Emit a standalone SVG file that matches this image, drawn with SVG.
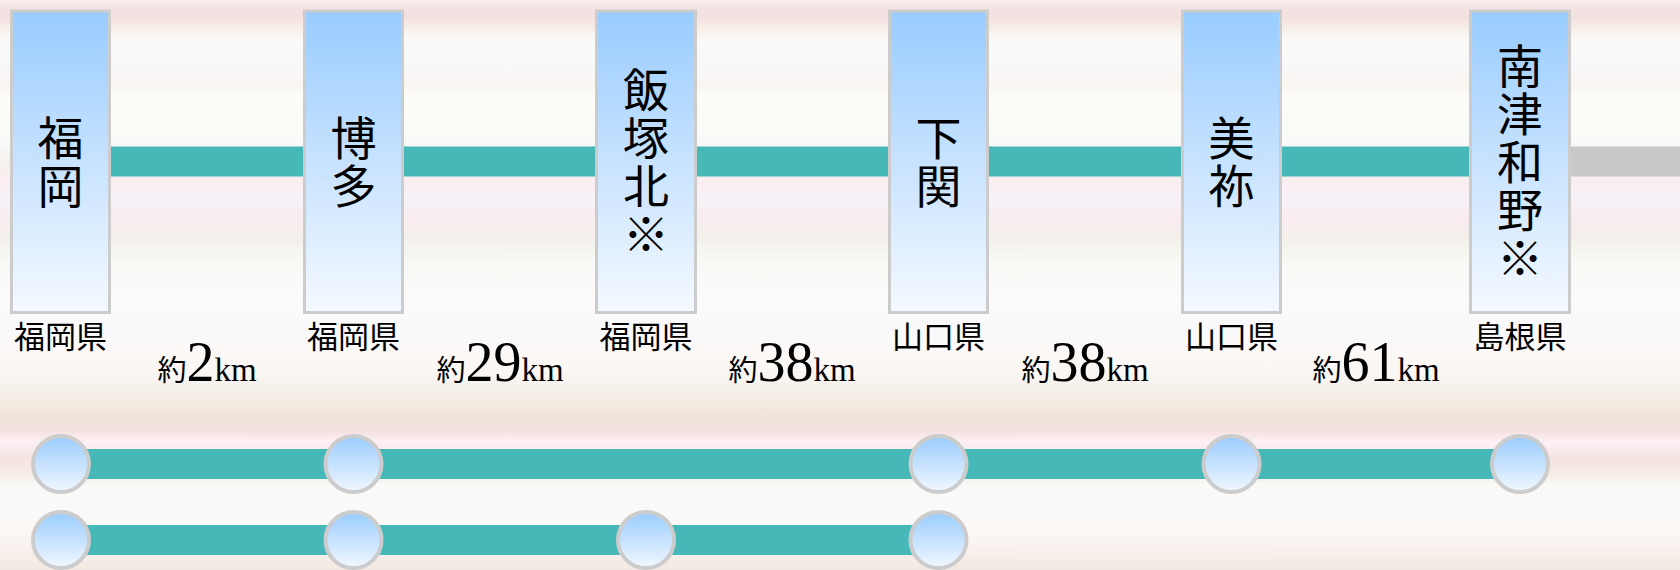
<svg xmlns="http://www.w3.org/2000/svg" width="1680" height="570" viewBox="0 0 1680 570">
<style>
.box{fill:url(#boxg);stroke:#cccccc;stroke-width:3}
.dot{fill:url(#dotg);stroke:#cccccc;stroke-width:4}
.st{font-family:"Noto Sans CJK JP",sans-serif;font-size:46px;fill:#000;text-anchor:middle;writing-mode:vertical-rl;letter-spacing:2px}
.pref{font-family:"Noto Sans CJK JP",sans-serif;font-size:31px;fill:#000;text-anchor:middle}
.dist{font-family:"Liberation Serif","Noto Sans CJK JP",serif;fill:#000;text-anchor:middle}
.ja{font-family:"Noto Sans CJK JP",sans-serif;font-size:29px}
.num{font-size:56px}
.km{font-size:33px}
.line{stroke:#47b8b8;stroke-width:30;fill:none}
.gray{stroke:#c9c9c9;stroke-width:30;fill:none}
</style>
<defs>
<linearGradient id="bg" x1="0" y1="0" x2="0" y2="570" gradientUnits="userSpaceOnUse">
<stop offset="0" stop-color="#fbeff1"/>
<stop offset="0.01" stop-color="#f5e3e3"/>
<stop offset="0.03" stop-color="#f3e0e0"/>
<stop offset="0.05" stop-color="#f7efe8"/>
<stop offset="0.07" stop-color="#fafafa"/>
<stop offset="0.12" stop-color="#f8f8fa"/>
<stop offset="0.15" stop-color="#faf5f0"/>
<stop offset="0.17" stop-color="#fcfdf9"/>
<stop offset="0.23" stop-color="#fafcf8"/>
<stop offset="0.25" stop-color="#f9f9fa"/>
<stop offset="0.29" stop-color="#f5f0ec"/>
<stop offset="0.32" stop-color="#fbeef2"/>
<stop offset="0.35" stop-color="#f6f2f8"/>
<stop offset="0.38" stop-color="#f9ecf0"/>
<stop offset="0.42" stop-color="#f3f0ea"/>
<stop offset="0.46" stop-color="#f8faf6"/>
<stop offset="0.52" stop-color="#fdfafa"/>
<stop offset="0.58" stop-color="#f9f9fb"/>
<stop offset="0.62" stop-color="#fcf8f6"/>
<stop offset="0.655" stop-color="#f9f6f3"/>
<stop offset="0.74" stop-color="#efe3d8"/>
<stop offset="0.755" stop-color="#f5e1e1"/>
<stop offset="0.775" stop-color="#fdf0f4"/>
<stop offset="0.805" stop-color="#f5e3e3"/>
<stop offset="0.83" stop-color="#f4ece2"/>
<stop offset="0.85" stop-color="#f9f9f8"/>
<stop offset="0.9" stop-color="#fafaf8"/>
<stop offset="0.93" stop-color="#fdf8f6"/>
<stop offset="1" stop-color="#f3e9e3"/>
</linearGradient>
<linearGradient id="boxg" x1="0" y1="0" x2="0" y2="1">
<stop offset="0" stop-color="#99ccff"/>
<stop offset="1" stop-color="#f5f9ff"/>
</linearGradient>
<linearGradient id="dotg" x1="0" y1="0" x2="0" y2="1">
<stop offset="0" stop-color="#99ccff"/>
<stop offset="1" stop-color="#f2f8ff"/>
</linearGradient>
</defs>
<rect x="0" y="0" width="1680" height="570" fill="url(#bg)"/>

<g id="connectors">
<line class="line" x1="61" y1="161.5" x2="1520" y2="161.5"/>
<line class="gray" x1="1520" y1="161.5" x2="1680" y2="161.5"/>
<line class="line" x1="61" y1="464" x2="1520" y2="464"/>
<line class="line" x1="61" y1="540" x2="939" y2="540"/>
</g>

<g id="station-fukuoka">
<rect class="box" x="11.5" y="11" width="98" height="301.5"/>
<text class="st" x="60.5" y="162.5">福岡</text>
<text class="pref" x="60.5" y="348">福岡県</text>
</g>
<g id="station-hakata">
<rect class="box" x="304.5" y="11" width="98" height="301.5"/>
<text class="st" x="353.5" y="162.5">博多</text>
<text class="pref" x="353.5" y="348">福岡県</text>
</g>
<g id="station-iizukakita">
<rect class="box" x="596.5" y="11" width="99" height="301.5"/>
<text class="st" x="646" y="162.5">飯塚北※</text>
<text class="pref" x="646" y="348">福岡県</text>
</g>
<g id="station-shimonoseki">
<rect class="box" x="889.5" y="11" width="98" height="301.5"/>
<text class="st" x="938.5" y="162.5">下関</text>
<text class="pref" x="938.5" y="348">山口県</text>
</g>
<g id="station-mine">
<rect class="box" x="1182.5" y="11" width="98" height="301.5"/>
<text class="st" x="1231.5" y="162.5">美祢</text>
<text class="pref" x="1231.5" y="348">山口県</text>
</g>
<g id="station-tsuwano">
<rect class="box" x="1470.5" y="11" width="99" height="301.5"/>
<text class="st" x="1520" y="162.5">南津和野※</text>
<text class="pref" x="1520" y="348">島根県</text>
</g>

<g id="distances">
<text class="dist" x="207" y="381"><tspan class="ja">約</tspan><tspan class="num">2</tspan><tspan class="km">km</tspan></text>
<text class="dist" x="500" y="381"><tspan class="ja">約</tspan><tspan class="num">29</tspan><tspan class="km">km</tspan></text>
<text class="dist" x="792" y="381"><tspan class="ja">約</tspan><tspan class="num">38</tspan><tspan class="km">km</tspan></text>
<text class="dist" x="1085" y="381"><tspan class="ja">約</tspan><tspan class="num">38</tspan><tspan class="km">km</tspan></text>
<text class="dist" x="1376" y="381"><tspan class="ja">約</tspan><tspan class="num">61</tspan><tspan class="km">km</tspan></text>
</g>

<g id="route1-stops">
<circle class="dot" cx="61" cy="464" r="28"/>
<circle class="dot" cx="353.5" cy="464" r="28"/>
<circle class="dot" cx="938.5" cy="464" r="28"/>
<circle class="dot" cx="1231.5" cy="464" r="28"/>
<circle class="dot" cx="1520" cy="464" r="28"/>
</g>
<g id="route2-stops">
<circle class="dot" cx="61" cy="540" r="28"/>
<circle class="dot" cx="353.5" cy="540" r="28"/>
<circle class="dot" cx="646" cy="540" r="28"/>
<circle class="dot" cx="938.5" cy="540" r="28"/>
</g>
</svg>
